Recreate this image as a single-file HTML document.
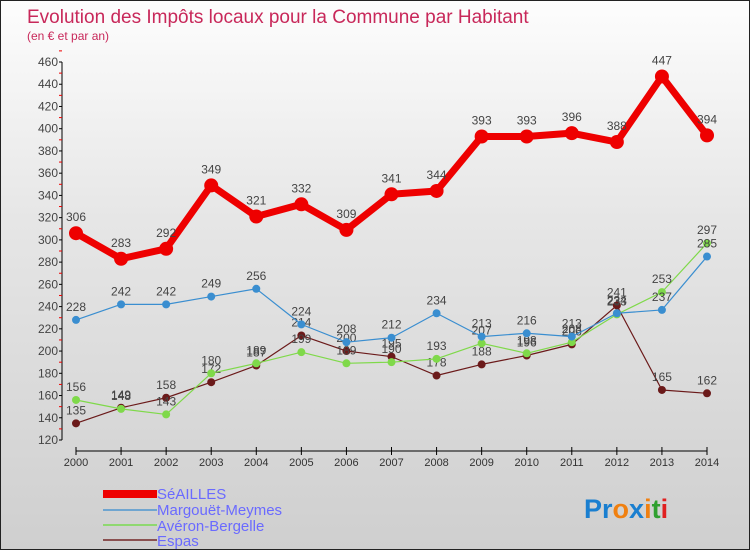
<!DOCTYPE html>
<html><head><meta charset="utf-8"><style>
body{margin:0;}
#c{position:relative;width:750px;height:550px;box-sizing:border-box;border:1px solid #222;background:linear-gradient(#fdfdfd,#e6e6e6 40%,#cfcfcf);font-family:"Liberation Sans",sans-serif;overflow:hidden}
</style></head><body>
<div id="c">
<svg width="750" height="550" id="svg" style="position:absolute;left:0;top:0">
<text x="26" y="22" font-size="19" fill="#c8285a">Evolution des Impôts locaux pour la Commune par Habitant</text>
<text x="26" y="39" font-size="12" fill="#c8285a">(en € et par an)</text>
<g id="axes"></g><g id="series"></g>
<g>
<rect x="102" y="489" width="54" height="8" fill="#e00"/>
<text x="156" y="498" font-size="15" fill="#6a6aff">SéAILLES</text>
<rect x="102" y="508" width="54" height="2" fill="#6fa5d0"/>
<text x="156" y="514" font-size="15" fill="#6a6aff">Margouët-Meymes</text>
<rect x="102" y="523" width="54" height="2" fill="#8fd870"/>
<text x="156" y="530" font-size="15" fill="#6a6aff">Avéron-Bergelle</text>
<rect x="102" y="538" width="54" height="2" fill="#8a5050"/>
<text x="156" y="545" font-size="15" fill="#6a6aff">Espas</text>
</g>
<text x="583" y="517" font-size="27" font-weight="bold"><tspan fill="#1a7fd0">Pr</tspan><tspan fill="#f08010">o</tspan><tspan fill="#1a7fd0">x</tspan><tspan fill="#f08010">i</tspan><tspan fill="#30a030">t</tspan><tspan fill="#e02020">i</tspan></text>
</svg>
</div>
<script>
const years=[2000,2001,2002,2003,2004,2005,2006,2007,2008,2009,2010,2011,2012,2013,2014];
const seailles=[306,283,292,349,321,332,309,341,344,393,393,396,388,447,394];
const margouet=[228,242,242,249,256,224,208,212,234,213,216,213,234,237,285];
const averon=[156,148,143,180,189,199,189,190,193,207,198,208,233,253,297];
const espas=[135,149,158,172,187,214,200,195,178,188,196,206,241,165,162];
const yTicks=[120,140,160,180,200,220,240,260,280,300,320,340,360,380,400,420,440,460];
const NS="http://www.w3.org/2000/svg";
const X=i=>75+i*(706-75)/(years.length-1);
const Y=v=>439-(v-120)*(439-61)/340;
function mk(t,a,p){const e=document.createElementNS(NS,t);for(const k in a)e.setAttribute(k,a[k]);p.appendChild(e);return e;}
const ax=document.getElementById('axes');
let yl=mk('line',{x1:61,y1:61,x2:61,y2:439,stroke:'#000'},ax);


yTicks.forEach(v=>{
 const tk=mk('line',{x1:58,x2:61,y1:Y(v),y2:Y(v),stroke:'#000'},ax);
 
 
 const mt=mk('line',{x1:58,x2:61,y1:Y(v+10),y2:Y(v+10),stroke:'#e00'},ax);
 
 
 const t=mk('text',{x:57,y:Y(v)+4,'font-size':12,fill:'#444','text-anchor':'end'},ax);t.textContent=v;
 
 
});
let xl=mk('line',{x1:75,y1:450,x2:706,y2:450,stroke:'#000'},ax);


years.forEach((y,i)=>{
 const tk=mk('line',{x1:X(i),x2:X(i),y1:446,y2:454,stroke:'#000'},ax);
 
 
 const t=mk('text',{x:X(i),y:465,'font-size':11,fill:'#333','text-anchor':'middle'},ax);t.textContent=y;
 
 
});
const sg=document.getElementById('series');
function series(name,vals,color,w,r){
 const g=mk('g',{},sg);
 
 
 const pl=mk('polyline',{points:vals.map((v,i)=>X(i)+','+Y(v)).join(' '),fill:'none',stroke:color,'stroke-width':w,'stroke-linejoin':'round'},g);
 
 
 vals.forEach((v,i)=>{
  const c=mk('circle',{cx:X(i),cy:Y(v),r:r,fill:color},g);
  
  
  const t=mk('text',{x:X(i),y:Y(v)-(r+5),'font-size':12,fill:'#444','text-anchor':'middle'},g);t.textContent=v;
  
  
 });
}
series('espas',espas,'#6b1a1a',1.2,4);
series('averon',averon,'#7fd94a',1.2,4);
series('margouet',margouet,'#3a8ed0',1.2,4);
series('seailles',seailles,'#ee0000',7,7);
</script>
</body></html>
